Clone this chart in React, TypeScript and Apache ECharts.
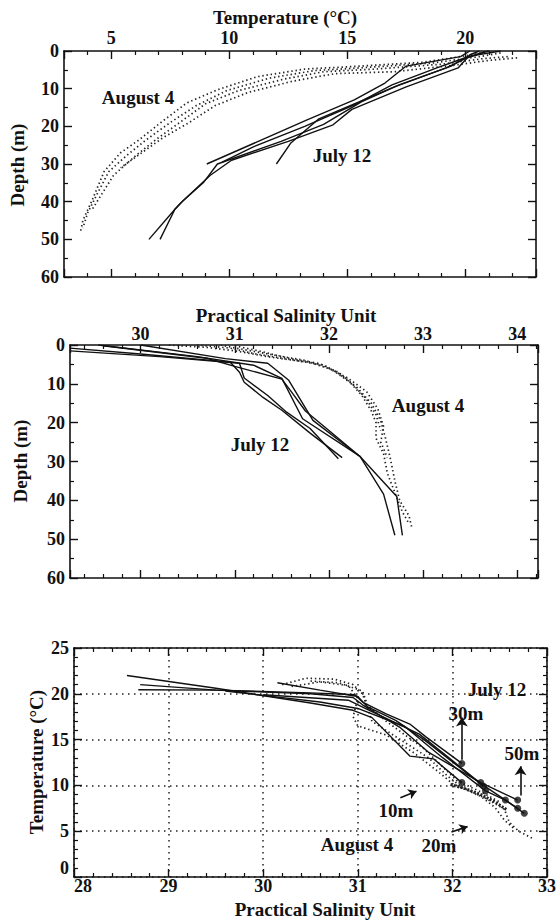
import React, { useEffect, useRef } from "react";
import * as echarts from "echarts";

// ---------- Panel 1: temperature (°C) vs depth (m) ----------
const julyTemp1 = [[20.2, 0], [19.8, 1.5], [17.5, 4], [16.6, 8.5], [15.3, 13], [13.3, 18.3], [9.05, 30]];
const julyTemp2 = [[20.8, 0.3], [20.0, 2], [19.2, 4.5], [17.0, 9.5], [15.5, 13.5], [13.8, 18], [12.6, 24.5], [12.0, 30]];
const julyTemp3 = [[21.5, 0], [20.1, 1.5], [19.4, 4], [17.2, 9], [15.6, 13.5], [14.0, 19.5], [12.2, 24], [9.5, 30], [8.9, 35], [8.0, 40], [7.7, 42], [6.6, 50]];
const julyTemp4 = [[20.6, 0], [20.2, 1], [19.7, 4.5], [17.5, 9.5], [15.2, 15.5], [14.4, 19.6], [12.5, 24], [10.1, 29], [9.2, 33], [8.0, 40], [7.7, 42], [7.07, 50]];
const julyTemp5 = [[21.0, 0], [20.0, 1.8], [18.8, 4.5], [16.9, 9], [15.4, 14], [13.2, 20], [11.0, 25.5], [9.7, 29.5]];

const augTemp1 = [[21.0, 0], [20.3, 1], [18.2, 3], [15, 4.2], [13.2, 4.8], [11.2, 6.8], [9.5, 10.3], [8.2, 13.8], [7.1, 19], [6.2, 23.5], [5.4, 27], [4.7, 32], [4.2, 39.5], [3.8, 45], [3.7, 48]];
const augTemp2 = [[21.5, 0.5], [20.6, 1.5], [18.6, 3.2], [15.5, 4.5], [13.6, 5.2], [11.7, 7.2], [9.9, 10.5], [8.6, 14.5], [7.5, 19], [6.5, 23.5], [5.7, 27.5], [4.9, 32], [4.4, 38], [4.0, 43], [3.8, 47]];
const augTemp3 = [[21.8, 1.5], [20.8, 2], [19, 3.5], [16.2, 4.8], [14, 5.5], [12.3, 7.5], [10.4, 10.5], [9.0, 14], [7.9, 19], [6.9, 23.5], [6.0, 28], [5.1, 33], [4.6, 38], [4.2, 42]];
const augTemp4 = [[22.2, 1.8], [21, 2.5], [19.5, 3.8], [17, 5.5], [14.5, 6], [12.7, 8], [10.8, 11], [9.4, 14.5], [8.3, 19], [7.2, 23], [6.3, 27], [5.4, 31]];

// ---------- Panel 2: salinity (PSU) vs depth (m) ----------
const julySal1 = [[29.25, 0.8], [30.0, 2.3], [30.95, 4.4], [31.05, 7], [31.1, 9.6], [31.3, 13.5], [31.5, 16.8], [31.8, 22.7], [32.14, 29]];
const julySal2 = [[29.25, 1.5], [30.2, 3], [31.05, 4.7], [31.1, 8.5], [31.35, 13], [31.55, 17.3], [31.8, 21.5], [32.1, 29.3]];
const julySal3 = [[29.55, 0], [30.6, 3], [31.2, 5.2], [31.5, 8.6], [31.72, 19], [32.33, 28.7], [32.58, 38.4], [32.7, 49]];
const julySal4 = [[30.0, 0], [30.9, 3.5], [31.35, 4.7], [31.57, 9], [31.83, 19.4], [32.33, 28.7], [32.72, 39], [32.78, 49]];
const julySal5 = [[29.6, 0.2], [30.7, 3.4], [31.0, 5.5], [31.5, 8.8], [31.6, 12], [31.75, 17], [32.0, 22], [32.33, 28.7]];

const augSal1 = [[30.3, 0], [30.7, 0.6], [31.0, 1.5], [31.4, 3.2], [31.8, 4.5], [32.05, 6.5], [32.2, 9], [32.35, 13], [32.45, 17], [32.5, 20], [32.5, 24], [32.58, 28], [32.62, 33], [32.7, 38], [32.78, 43], [32.85, 46]];
const augSal2 = [[30.6, 0], [30.95, 0.8], [31.2, 2.2], [31.6, 3.8], [31.95, 5.2], [32.1, 7.5], [32.3, 11], [32.45, 15], [32.55, 19.5], [32.6, 24], [32.65, 29], [32.7, 35], [32.75, 40], [32.85, 44], [32.88, 47]];
const augSal3 = [[30.85, 0], [31.05, 1], [31.4, 2.5], [31.75, 4], [32.0, 6], [32.2, 8.5], [32.4, 12], [32.52, 16.5], [32.58, 21], [32.55, 25], [32.62, 29]];
const augSal4 = [[31.0, 0.2], [31.25, 1.5], [31.55, 3.3], [31.9, 4.8], [32.1, 7], [32.25, 10], [32.4, 14], [32.5, 18], [32.55, 22]];

// ---------- Panel 3: T-S diagram (salinity, temperature) ----------
const julyTS1 = [[28.56, 22.0], [29.5, 20.6], [30.5, 19.0], [30.95, 18.2], [31.15, 17.4], [31.55, 13.2], [31.8, 12.9], [32.1, 10.3]];
const julyTS2 = [[28.7, 21.0], [29.5, 20.4], [30.5, 20.1], [30.97, 19.9], [31.05, 19.1], [31.3, 17.8], [31.55, 16.7], [31.72, 15.3], [32.1, 12.4]];
const julyTS3 = [[28.68, 20.45], [29.5, 20.4], [30.5, 20.0], [30.95, 19.6], [31.05, 18.8], [31.45, 16.3], [31.75, 13.6], [32.3, 10.3], [32.69, 8.4]];
const julyTS4 = [[30.15, 21.2], [30.6, 20.4], [31.0, 19.7], [31.1, 18.6], [31.4, 17.1], [31.7, 15.0], [32.33, 9.9]];
const julyTS5 = [[29.6, 20.3], [30.6, 19.1], [31.0, 18.4], [31.5, 16.4], [31.9, 13.0], [32.35, 9.4], [32.56, 8.4], [32.76, 6.95]];
const julyTS6 = [[30.0, 19.9], [30.9, 19.3], [31.1, 18.3], [31.65, 15.6], [32.0, 12.7], [32.3, 10.2], [32.69, 7.5]];
const julyDots = [[32.1, 12.4], [32.1, 10.3], [32.3, 10.3], [32.33, 9.9], [32.35, 9.4], [32.56, 8.4], [32.69, 8.4], [32.69, 7.5], [32.76, 6.95]];

const augTS1 = [[30.2, 21.0], [30.45, 21.7], [30.75, 21.6], [30.95, 21.0], [31.05, 20.0], [31.1, 18.5], [31.15, 17.0], [31.45, 15.0], [31.75, 13.0], [31.95, 11.0], [32.1, 9.8], [32.35, 8.6], [32.55, 7.4], [32.6, 6.0], [32.7, 5.0], [32.85, 4.2]];
const augTS2 = [[30.3, 20.8], [30.6, 21.3], [30.9, 20.9], [31.0, 19.5], [30.95, 17.5], [31.0, 16.5], [31.3, 15.5], [31.6, 13.5], [31.85, 11.5], [32.0, 10.2], [32.3, 8.8], [32.45, 7.6], [32.55, 6.2], [32.65, 5.3]];
const augTS3 = [[30.5, 21.4], [30.8, 21.2], [31.05, 20.3], [31.1, 18.8], [31.3, 17.0], [31.7, 14.0], [31.9, 12.0], [32.05, 10.5], [32.3, 9.3], [32.5, 8.2]];
const augTSDense = [[31.98, 10.1], [32.15, 9.6], [32.3, 9.0], [32.45, 8.2], [32.58, 7.3]];

// depth arrows (salinity, temperature)
const arrow30m = [[32.1, 12.8], [32.1, 17.4]];
const arrow50m = [[32.72, 8.9], [32.72, 12.1]];
const arrow10m = [[31.45, 8.65], [31.62, 9.35]];
const arrow20m = [[31.99, 4.9], [32.16, 5.5]];

// tick label steps
const tempLabelStep = 5;
const depthLabelStep = 10;
const salLabelStep = 1;

const FONT = "'Liberation Serif', 'Times New Roman', serif";
const INK = "#111";

function isMult(v: number, step: number) {
  const r = v / step;
  return Math.abs(r - Math.round(r)) < 1e-6;
}

function makeAxis(opts: any) {
  const { gridIndex, position, min, max, labels, step, minorSplit, inverse, interval, splitNumber, grid3, margin, labelExtra } = opts;
  const ax: any = {
    type: "value",
    gridIndex,
    position,
    min,
    max,
    inverse: !!inverse,
    axisLine: { show: true, onZero: false, lineStyle: { color: INK, width: 1.6 } },
    axisTick: { show: true, inside: true, length: 8, lineStyle: { color: INK, width: 1.4 } },
    minorTick: { show: true, splitNumber: minorSplit, length: 4, lineStyle: { color: INK, width: 1.2 } },
    splitLine: grid3
      ? { show: true, lineStyle: { color: "#222", width: 1.5, type: [1.5, 4.5] } }
      : { show: false },
    axisLabel: labels
      ? {
          show: true,
          margin: margin ?? 4,
          color: INK,
          fontFamily: FONT,
          fontWeight: "bold",
          fontSize: 18,
          formatter: (v: number) => (isMult(v, step) ? String(Math.round(v)) : ""),
          ...(labelExtra || {}),
        }
      : { show: false },
  };
  if (interval != null) ax.interval = interval;
  else {
    ax.splitNumber = splitNumber;
    ax.minInterval = step;
    ax.maxInterval = step;
  }
  return ax;
}

function line(data: number[][], xi: number, yi: number, dotted: boolean, extra: any = {}) {
  return {
    type: "line",
    data,
    xAxisIndex: xi,
    yAxisIndex: yi,
    showSymbol: false,
    symbol: "none",
    silent: true,
    z: dotted ? 2 : 3,
    lineStyle: {
      color: dotted ? "#222" : INK,
      width: dotted ? 1.7 : 1.4,
      type: dotted ? [1.4, 2.8] : "solid",
      ...extra,
    },
  };
}

function arrow(coords: number[][], size: number) {
  return {
    type: "lines",
    coordinateSystem: "cartesian2d",
    xAxisIndex: 4,
    yAxisIndex: 4,
    silent: true,
    z: 5,
    symbol: ["none", "arrow"],
    symbolSize: size,
    lineStyle: { color: INK, width: 1.6, opacity: 1 },
    data: [{ coords }],
  };
}

function txt(text: string, x: number, y: number, rotate = 0, size = 19) {
  return {
    type: "text",
    x,
    y,
    rotation: rotate,
    silent: true,
    z: 10,
    style: {
      text,
      font: `bold ${size}px ${FONT}`,
      fill: INK,
      textAlign: "center",
      textVerticalAlign: "middle",
      align: "center",
      verticalAlign: "middle",
    },
  };
}

export default function App() {
  const ref = useRef<HTMLDivElement>(null);
  useEffect(() => {
    document.body.style.margin = "0";
    if (!ref.current) return;
    const chart = echarts.init(ref.current, undefined, { renderer: "svg" });
    const grids = [
      { left: 64, top: 51, width: 472, height: 226 },
      { left: 70, top: 345, width: 468, height: 233 },
      { left: 74, top: 648, width: 473, height: 229 },
    ].map((g) => ({ ...g, containLabel: false, outerBoundsMode: "none", show: false }));

    const xAxis = [
      makeAxis({ gridIndex: 0, position: "top", min: 3, max: 23, labels: true, step: tempLabelStep, minorSplit: 5, splitNumber: 4, margin: 4 }),
      makeAxis({ gridIndex: 0, position: "bottom", min: 3, max: 23, labels: false, step: tempLabelStep, minorSplit: 5, splitNumber: 4 }),
      makeAxis({ gridIndex: 1, position: "top", min: 29.25, max: 34.22, labels: true, step: salLabelStep, minorSplit: 5, splitNumber: 5, margin: 2 }),
      makeAxis({ gridIndex: 1, position: "bottom", min: 29.25, max: 34.22, labels: false, step: salLabelStep, minorSplit: 5, splitNumber: 5 }),
      makeAxis({ gridIndex: 2, position: "bottom", min: 28, max: 33, labels: true, step: salLabelStep, minorSplit: 5, interval: 1, grid3: true, margin: 0, labelExtra: { alignMinLabel: "left" } }),
      makeAxis({ gridIndex: 2, position: "top", min: 28, max: 33, labels: false, step: salLabelStep, minorSplit: 5, interval: 1 }),
    ];
    const yAxis = [
      makeAxis({ gridIndex: 0, position: "left", min: 0, max: 60, labels: true, step: depthLabelStep, minorSplit: 2, interval: 10, inverse: true, margin: 5 }),
      makeAxis({ gridIndex: 0, position: "right", min: 0, max: 60, labels: false, step: depthLabelStep, minorSplit: 2, interval: 10, inverse: true }),
      makeAxis({ gridIndex: 1, position: "left", min: 0, max: 60, labels: true, step: depthLabelStep, minorSplit: 2, interval: 10, inverse: true, margin: 5 }),
      makeAxis({ gridIndex: 1, position: "right", min: 0, max: 60, labels: false, step: depthLabelStep, minorSplit: 2, interval: 10, inverse: true }),
      makeAxis({ gridIndex: 2, position: "left", min: 0, max: 25, labels: true, step: tempLabelStep, minorSplit: 5, interval: 5, grid3: true, margin: 5, labelExtra: { verticalAlignMinLabel: "bottom" } }),
      makeAxis({ gridIndex: 2, position: "right", min: 0, max: 25, labels: false, step: tempLabelStep, minorSplit: 5, interval: 5 }),
    ];

    const series: any[] = [
      ...[julyTemp1, julyTemp2, julyTemp3, julyTemp4, julyTemp5].map((d) => line(d, 0, 0, false)),
      ...[augTemp1, augTemp2, augTemp3, augTemp4].map((d) => line(d, 0, 0, true)),
      ...[julySal1, julySal2, julySal3, julySal4, julySal5].map((d) => line(d, 2, 2, false)),
      ...[augSal1, augSal2, augSal3, augSal4].map((d) => line(d, 2, 2, true)),
      ...[julyTS1, julyTS2, julyTS3, julyTS4, julyTS5, julyTS6].map((d) => line(d, 4, 4, false)),
      ...[augTS1, augTS2, augTS3].map((d) => line(d, 4, 4, true)),
      line(augTSDense, 4, 4, true, { width: 3, type: [2, 1.5], color: "#222" }),
      {
        type: "scatter",
        data: julyDots,
        xAxisIndex: 4,
        yAxisIndex: 4,
        symbol: "circle",
        symbolSize: 7,
        silent: true,
        z: 6,
        itemStyle: { color: INK },
      },
      arrow(arrow30m, 9),
      arrow(arrow50m, 9),
      arrow(arrow10m, 8),
      arrow(arrow20m, 8),
    ];

    const graphic = [
      txt("Temperature (°C)", 285, 17),
      txt("Depth (m)", 17, 165, Math.PI / 2),
      txt("August 4", 138, 97),
      txt("July 12", 342, 155),
      txt("Practical Salinity Unit", 286, 315),
      txt("Depth (m)", 20, 461, Math.PI / 2),
      txt("August 4", 428, 405),
      txt("July 12", 260, 444),
      txt("Temperature (°C)", 36, 762, Math.PI / 2),
      txt("Practical Salinity Unit", 325, 909),
      txt("July 12", 497, 689),
      txt("30m", 466, 713),
      txt("50m", 522, 753),
      txt("10m", 396, 810),
      txt("August 4", 357, 844),
      txt("20m", 439, 845),
    ];

    chart.setOption({
      animation: false,
      backgroundColor: "#fff",
      grid: grids,
      xAxis,
      yAxis,
      series,
      graphic,
    });
    return () => chart.dispose();
  }, []);
  return <div ref={ref} style={{ width: 560, height: 923 }} />;
}
